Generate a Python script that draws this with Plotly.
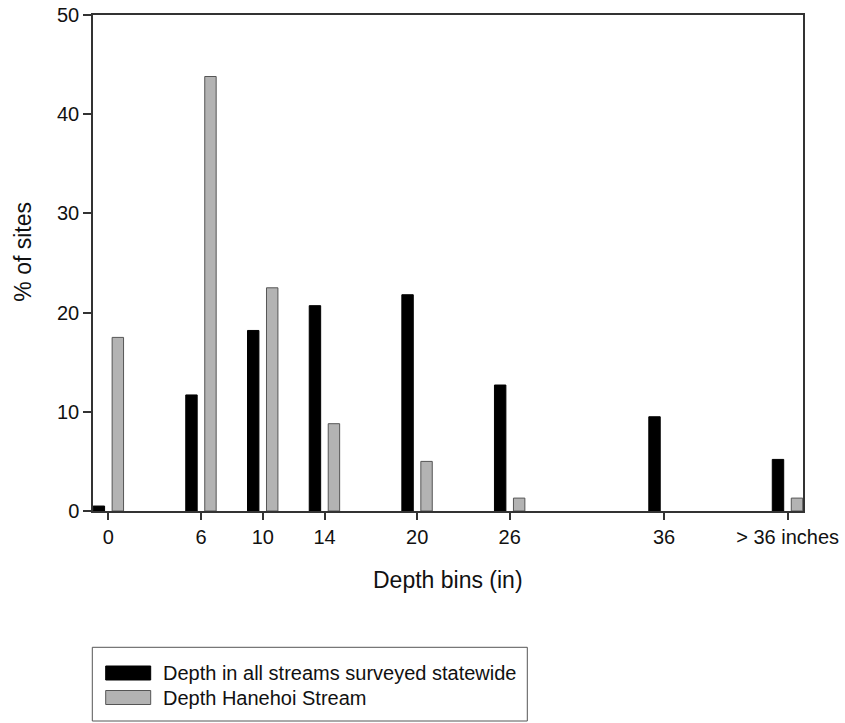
import plotly.graph_objects as go

# ---- data ----
bin_positions = [0, 6, 10, 14, 20, 26, 36, 44]
bin_labels = ["0", "6", "10", "14", "20", "26", "36", "> 36 inches"]
statewide = [0.5, 11.7, 18.2, 20.7, 21.8, 12.7, 9.5, 5.2]
hanehoi = [17.5, 43.8, 22.5, 8.8, 5.0, 1.3, 0, 1.3]
y_ticks = [0, 10, 20, 30, 40, 50]

series_names = ["Depth in all streams surveyed statewide", "Depth Hanehoi Stream"]
FONT = "Liberation Sans, Arial, sans-serif"
AX = "#333333"
GRAY = "#b3b3b3"

fig = go.Figure()
fig.add_trace(go.Bar(
    x=bin_positions, y=statewide, name=series_names[0],
    width=0.74, offset=-0.99,
    marker=dict(color="black",
                line=dict(color="black", width=[1 if v > 0 else 0 for v in statewide])),
    showlegend=False,
))
fig.add_trace(go.Bar(
    x=bin_positions, y=hanehoi, name=series_names[1],
    width=0.74, offset=0.24,
    marker=dict(color=GRAY,
                line=dict(color="#555555", width=[1 if v > 0 else 0 for v in hanehoi])),
    showlegend=False,
))

# custom legend (wide swatches like reference)
W, H = 845, 723
ml, mr, mt, mb = 93, 42, 15, 212
pw, ph = W - ml - mr, H - mt - mb


def px(x):
    return (x - ml) / pw


def py(y):
    return (H - mb - y) / ph


shapes = [
    dict(type="rect", xref="paper", yref="paper", x0=px(92.3), x1=px(527.3),
         y0=py(647.3), y1=py(721), line=dict(color="#555555", width=1),
         fillcolor="white", layer="above"),
    dict(type="rect", xref="paper", yref="paper", x0=px(105.7), x1=px(150.7),
         y0=py(666), y1=py(680), line=dict(color="black", width=1),
         fillcolor="black", layer="above"),
    dict(type="rect", xref="paper", yref="paper", x0=px(105.7), x1=px(150.7),
         y0=py(690.5), y1=py(704.5), line=dict(color="#555555", width=1),
         fillcolor=GRAY, layer="above"),
]
annotations = [
    dict(text=series_names[0], xref="paper", yref="paper", x=px(161), y=py(673),
         xanchor="left", yanchor="middle", showarrow=False,
         font=dict(family=FONT, size=20, color="#111111")),
    dict(text=series_names[1], xref="paper", yref="paper", x=px(161), y=py(697.5),
         xanchor="left", yanchor="middle", showarrow=False,
         font=dict(family=FONT, size=20, color="#111111")),
    dict(text="% of sites", xref="paper", yref="paper", x=px(23), y=py(251.7),
         xanchor="center", yanchor="middle", textangle=-90, showarrow=False,
         font=dict(family=FONT, size=23, color="#111111")),
    dict(text="Depth bins (in)", xref="paper", yref="paper", x=0.5, y=py(580),
         xanchor="center", yanchor="middle", showarrow=False,
         font=dict(family=FONT, size=23, color="#111111")),
]

fig.update_layout(
    width=W, height=H,
    margin=dict(l=ml, r=mr, t=mt, b=mb, pad=0),
    paper_bgcolor="white", plot_bgcolor="white",
    barmode="overlay",
    font=dict(family=FONT, size=20, color="#111111"),
    shapes=shapes, annotations=annotations,
    showlegend=False,
)
fig.update_xaxes(
    range=[-1, 45], tickvals=bin_positions, ticktext=bin_labels,
    showgrid=False, zeroline=False, automargin=False,
    showline=True, linecolor=AX, linewidth=1.5, mirror=True,
    ticks="outside", ticklen=7, tickwidth=1.5, tickcolor=AX,
    tickfont=dict(family=FONT, size=20, color="#111111"),
)
fig.update_yaxes(
    range=[0, 50], tickvals=y_ticks,
    showgrid=False, zeroline=False, automargin=False,
    showline=True, linecolor=AX, linewidth=1.5, mirror=True,
    ticks="outside", ticklen=8, tickwidth=1.5, tickcolor=AX,
    tickfont=dict(family=FONT, size=20, color="#111111"),
)

fig.write_html(
    "out.html",
    config={"displayModeBar": False},
    post_script="document.body.style.margin='0';document.body.style.overflow='hidden';",
)
